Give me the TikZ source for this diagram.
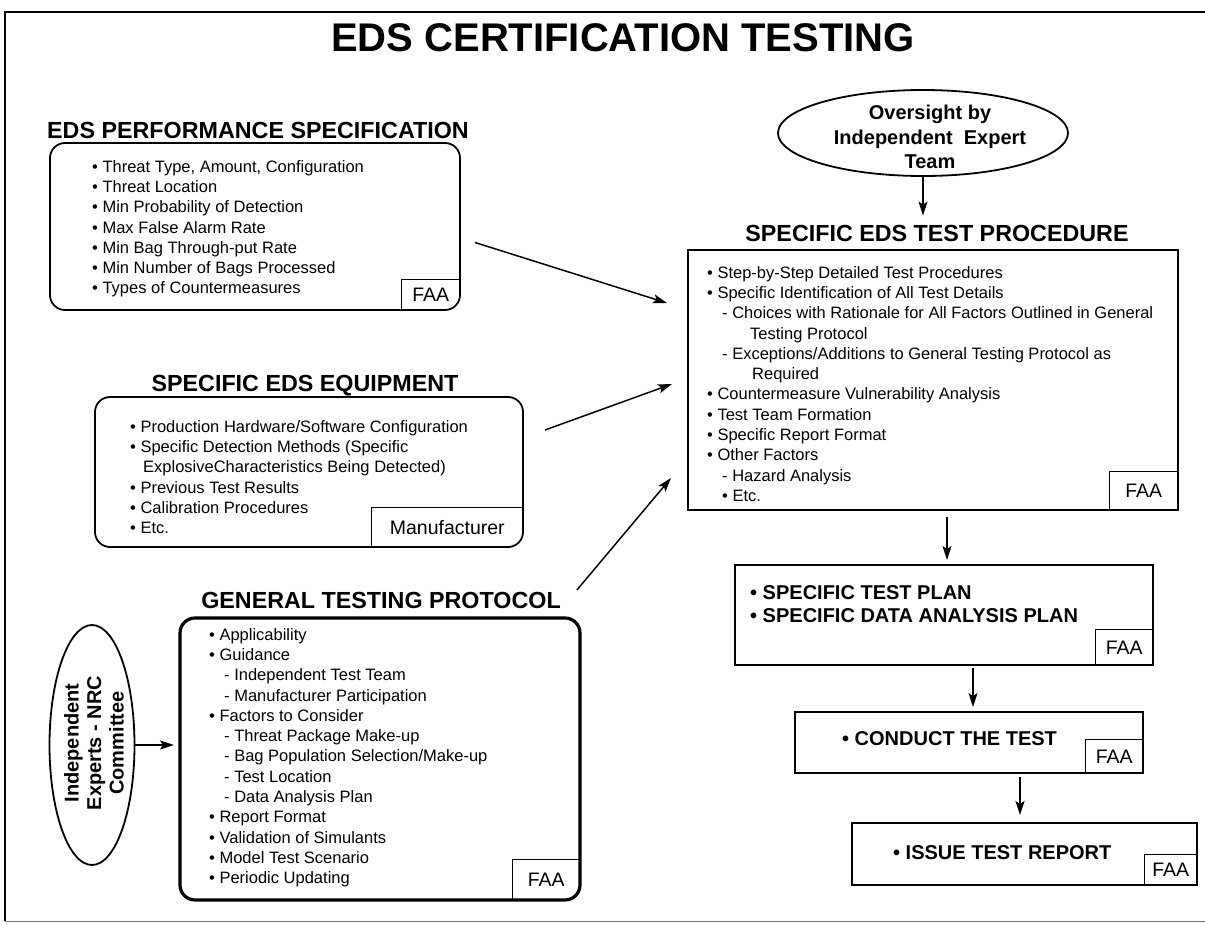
\documentclass[tikz,border=0pt]{standalone}
\usepackage{fontspec}
\setmainfont{Liberation Sans}
\usetikzlibrary{arrows.meta,shapes.geometric,calc}
\newcommand\bul{\textbullet\ }
\newcommand\sbul{\hspace*{15pt}-\ }
\newcommand\sdot{\hspace*{15pt}\textbullet\ }
\begin{document}
\begin{tikzpicture}[x=1pt,y=-1pt,
  box/.style={draw, line width=1.8pt, inner sep=0pt, outer sep=0pt, anchor=north west},
  rbox/.style={box, rounded corners=15pt},
  lbl/.style={font=\fontsize{19.5}{22}\selectfont, inner sep=0pt, anchor=south east},
  body/.style={font=\fontsize{16.5}{20.3}\selectfont, align=left, anchor=north west, inner sep=0pt},
  head/.style={font=\bfseries\fontsize{23.3}{26}\selectfont, anchor=base, inner sep=0pt},
  big/.style={font=\bfseries\fontsize{20}{23}\selectfont, align=left, anchor=north west, inner sep=0pt},
  oval/.style={draw, ellipse, line width=1.8pt, inner sep=0pt},
  ovaltext/.style={font=\bfseries\fontsize{20}{23}\selectfont, align=center, inner sep=0pt},
  arr/.style={line width=1.5pt, -{Stealth[length=14pt,width=9pt,inset=3pt]}},
  sub/.style={line width=1.5pt},
]
\useasboundingbox (0,0) rectangle (1205,924);
% frame
\draw[line width=1.6pt] (1210,12) -- (5,12) -- (5,921);
\draw[line width=1pt, black!55] (5,921) -- (1210,921);

% title
\node[font=\bfseries\fontsize{40}{44}\selectfont, anchor=base, inner sep=0pt] (title) at (623,51) {EDS CERTIFICATION TESTING};

% box 1
\node[head] (h1) at (258,138) {EDS PERFORMANCE SPECIFICATION};
\node[rbox, minimum width=410pt, minimum height=167pt] (b1) at (50,143) {};
\node[body] (t1) at (92,160) {\bul Threat Type, Amount, Configuration\\
\bul Threat Location\\
\bul Min Probability of Detection\\
\bul Max False Alarm Rate\\
\bul Min Bag Through-put Rate\\
\bul Min Number of Bags Processed\\
\bul Types of Countermeasures};
\node[lbl, minimum width=58pt, minimum height=30pt] (f1) at (b1.south east) {FAA};
\draw[sub] (f1.south west) |- (f1.north east);

% box 2
\node[head] (h2) at (305,391) {SPECIFIC EDS EQUIPMENT};
\node[rbox, minimum width=428pt, minimum height=150pt] (b2) at (95,397) {};
\node[body] (t2) at (130,420) {\bul Production Hardware/Software Configuration\\
\bul Specific Detection Methods (Specific\\
\hspace*{13pt}ExplosiveCharacteristics Being Detected)\\
\bul Previous Test Results\\
\bul Calibration Procedures\\
\bul Etc.};
\node[lbl, minimum width=151pt, minimum height=39pt] (f2) at (b2.south east) {Manufacturer};
\draw[sub] (f2.south west) |- (f2.north east);

% box 3
\node[head] (h3) at (381,608) {GENERAL TESTING PROTOCOL};
\node[rbox, line width=3.2pt, minimum width=400pt, minimum height=282pt] (b3) at (180,618) {};
\node[body] (t3) at (209,628) {\bul Applicability\\
\bul Guidance\\
\sbul Independent Test Team\\
\sbul Manufacturer Participation\\
\bul Factors to Consider\\
\sbul Threat Package Make-up\\
\sbul Bag Population Selection/Make-up\\
\sbul Test Location\\
\sbul Data Analysis Plan\\
\bul Report Format\\
\bul Validation of Simulants\\
\bul Model Test Scenario\\
\bul Periodic Updating};
\node[lbl, minimum width=67pt, minimum height=40pt] (f3) at (b3.south east) {FAA};
\draw[sub] (f3.south west) |- (f3.north east);

% left ellipse
\node[oval, minimum width=85pt, minimum height=240pt] (e1) at (92,745) {};
\node[ovaltext, rotate=90, font=\bfseries\fontsize{20}{22.5}\selectfont] (e1t) at (94,743) {Independent\\Experts - NRC\\Committee};

% top right ellipse
\node[oval, minimum width=290pt, minimum height=86pt] (e2) at (923,133) {};
\node[ovaltext, font=\bfseries\fontsize{20}{24.5}\selectfont] (e2t) at (930,137) {Oversight by\\Independent\ \ Expert\\Team};

% box 4
\node[head] (h4) at (937,241) {SPECIFIC EDS TEST PROCEDURE};
\node[box, minimum width=490pt, minimum height=260pt] (b4) at (688,250) {};
\node[body] (t4) at (707,266) {\bul Step-by-Step Detailed Test Procedures\\
\bul Specific Identification of All Test Details\\
\sbul Choices with Rationale for All Factors Outlined in General\\
\hspace*{43pt}Testing Protocol\\
\sbul Exceptions/Additions to General Testing Protocol as\\
\hspace*{45pt}Required\\
\bul Countermeasure Vulnerability Analysis\\
\bul Test Team Formation\\
\bul Specific Report Format\\
\bul Other Factors\\
\sbul Hazard Analysis\\
\sdot Etc.};
\node[lbl, minimum width=68pt, minimum height=38pt] (f4) at (b4.south east) {FAA};
\draw[sub] (f4.south west) |- (f4.north east);

% box 5
\node[box, minimum width=418pt, minimum height=100pt] (b5) at (735,565) {};
\node[big] (t5) at (750,585) {\bul SPECIFIC TEST PLAN\\\bul SPECIFIC DATA ANALYSIS PLAN};
\node[lbl, minimum width=57pt, minimum height=35pt] (f5) at (b5.south east) {FAA};
\draw[sub] (f5.south west) |- (f5.north east);

% box 6
\node[box, minimum width=348pt, minimum height=61pt] (b6) at (795,712) {};
\node[big] (t6) at (842,731) {\bul CONDUCT THE TEST};
\node[lbl, minimum width=57pt, minimum height=33pt] (f6) at (b6.south east) {FAA};
\draw[sub] (f6.south west) |- (f6.north east);

% box 7
\node[box, minimum width=345pt, minimum height=62pt] (b7) at (852,823) {};
\node[big] (t7) at (893,845) {\bul ISSUE TEST REPORT};
\node[lbl, minimum width=52pt, minimum height=30pt] (f7) at (b7.south east) {FAA};
\draw[sub] (f7.south west) |- (f7.north east);

% connectors
\draw[arr] ($(b1.east)+(15,16)$) -- ($(b4.west)+(-21,-77)$);
\draw[arr] ($(b2.east)+(22,-42)$) -- ($(b4.west)+(-16,4)$);
\draw[arr] ($(h3.east)+(16,-10)$) -- ($(b4.west)+(-17,98)$);
\draw[arr] (e1.east) -- ($(b3.west)+(-6,-14)$);
\draw[arr] (e2.south) -- ($(e2.south |- h4.north)+(0,-9)$);
\draw[arr] ($(b4.south)+(14,7)$) -- ($(b5.north)+(3,-5)$);
\draw[arr] ($(b5.south)+(29,3)$) -- ($(b6.north)+(4,-5)$);
\draw[arr] ($(b6.south)+(51,4)$) -- ($(b7.north)+(-4.5,-8)$);
\end{tikzpicture}
\end{document}
